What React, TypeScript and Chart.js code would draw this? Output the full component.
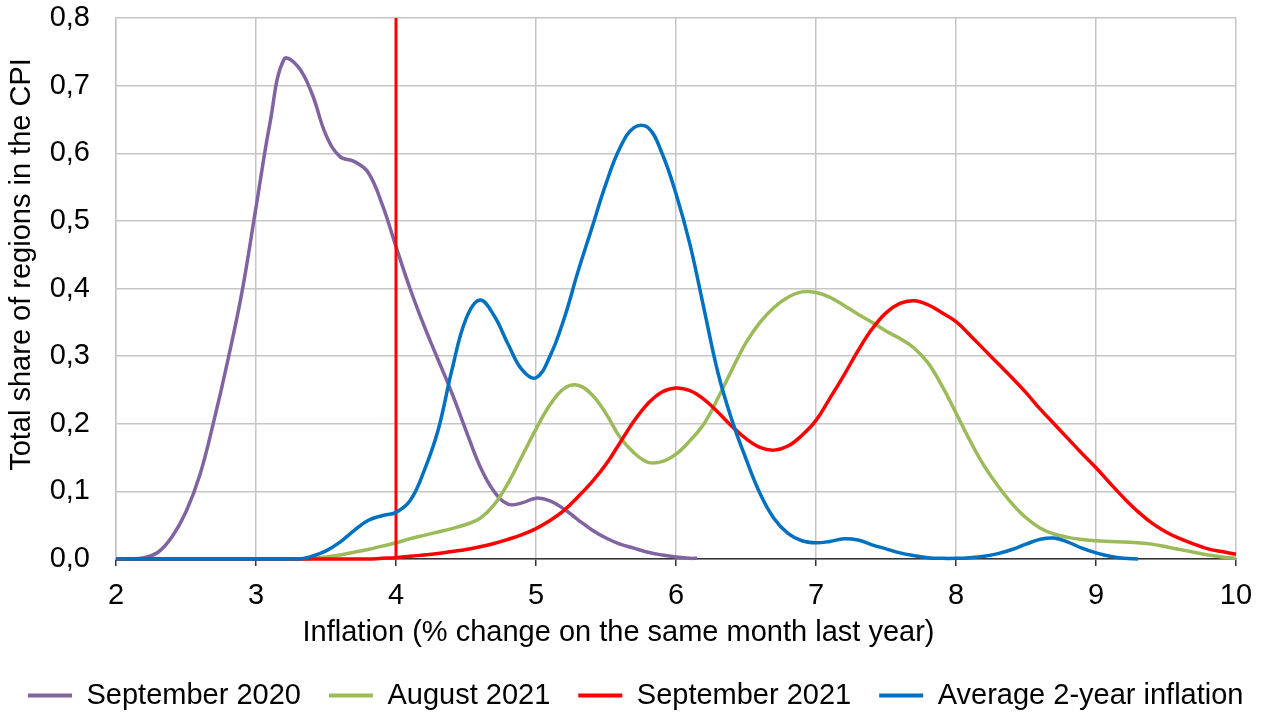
import React, { useEffect, useRef } from 'react';
import { Chart, registerables } from 'chart.js';

Chart.register(...registerables);

const seriesNames = ['September 2020', 'August 2021', 'September 2021', 'Average 2-year inflation'];
const seriesColors = ['#8064A2', '#9BBB59', '#FF0000', '#0070C0'];

const xTitle = 'Inflation (% change on the same month last year)';
const yTitle = 'Total share of regions in the CPI';

const xMin = 2;
const xMax = 10;
const yMin = 0;
const yMax = 0.8;

const sep2020X = [2.0, 2.1, 2.2, 2.3, 2.4, 2.5, 2.6, 2.7, 2.8, 2.9, 3.0, 3.1, 3.2, 3.3, 3.4, 3.5, 3.6, 3.7, 3.8, 3.9, 4.0, 4.1, 4.2, 4.3, 4.4, 4.5, 4.6, 4.7, 4.8, 4.9, 5.0, 5.1, 5.2, 5.3, 5.4, 5.5, 5.6, 5.7, 5.8, 5.9, 6.0, 6.1, 6.15];
const sep2020Y = [0, 0, 0.002, 0.01, 0.033, 0.07, 0.125, 0.205, 0.295, 0.395, 0.52, 0.645, 0.739, 0.728, 0.688, 0.627, 0.595, 0.588, 0.572, 0.525, 0.462, 0.4, 0.345, 0.295, 0.245, 0.19, 0.137, 0.1, 0.081, 0.083, 0.09, 0.086, 0.074, 0.058, 0.043, 0.031, 0.022, 0.016, 0.01, 0.006, 0.003, 0.001, 0.001];

const aug2021X = [2.0, 3.3, 3.4, 3.5, 3.6, 3.7, 3.8, 3.9, 4.0, 4.1, 4.2, 4.3, 4.4, 4.5, 4.6, 4.7, 4.8, 4.9, 5.0, 5.1, 5.2, 5.3, 5.4, 5.5, 5.6, 5.7, 5.8, 5.9, 6.0, 6.1, 6.2, 6.3, 6.4, 6.5, 6.6, 6.7, 6.8, 6.9, 7.0, 7.1, 7.2, 7.3, 7.4, 7.5, 7.6, 7.7, 7.8, 7.9, 8.0, 8.1, 8.2, 8.3, 8.4, 8.5, 8.6, 8.7, 8.8, 8.9, 9.0, 9.1, 9.2, 9.3, 9.4, 9.5, 9.6, 9.7, 9.8, 9.9, 10.0];
const aug2021Y = [0, 0, 0.001, 0.003, 0.006, 0.01, 0.014, 0.019, 0.024, 0.03, 0.035, 0.04, 0.045, 0.051, 0.06, 0.08, 0.112, 0.152, 0.192, 0.228, 0.252, 0.257, 0.243, 0.215, 0.18, 0.157, 0.143, 0.144, 0.155, 0.175, 0.2, 0.238, 0.28, 0.32, 0.35, 0.372, 0.387, 0.395, 0.394, 0.387, 0.375, 0.362, 0.35, 0.337, 0.326, 0.312, 0.29, 0.256, 0.216, 0.175, 0.138, 0.108, 0.082, 0.061, 0.046, 0.037, 0.032, 0.029, 0.027, 0.026, 0.025, 0.024, 0.022, 0.018, 0.014, 0.01, 0.006, 0.003, 0.001];

const sep2021X = [2.0, 3.8, 3.9, 4.0, 4.1, 4.2, 4.3, 4.4, 4.5, 4.6, 4.7, 4.8, 4.9, 5.0, 5.1, 5.2, 5.3, 5.4, 5.5, 5.6, 5.7, 5.8, 5.9, 6.0, 6.1, 6.2, 6.3, 6.4, 6.5, 6.6, 6.7, 6.8, 6.9, 7.0, 7.1, 7.2, 7.3, 7.4, 7.5, 7.6, 7.7, 7.8, 7.9, 8.0, 8.1, 8.2, 8.3, 8.4, 8.5, 8.6, 8.7, 8.8, 8.9, 9.0, 9.1, 9.2, 9.3, 9.4, 9.5, 9.6, 9.7, 9.8, 9.9, 10.0];
const sep2021Y = [0, 0, 0.001, 0.002, 0.004, 0.006, 0.008, 0.011, 0.014, 0.018, 0.023, 0.029, 0.036, 0.045, 0.057, 0.072, 0.092, 0.114, 0.14, 0.172, 0.204, 0.23, 0.247, 0.253, 0.249, 0.236, 0.217, 0.196, 0.178, 0.165, 0.161, 0.167, 0.183, 0.205, 0.238, 0.272, 0.308, 0.34, 0.364, 0.378, 0.382, 0.376, 0.364, 0.351, 0.331, 0.31, 0.289, 0.268, 0.246, 0.222, 0.2, 0.178, 0.156, 0.135, 0.112, 0.09, 0.07, 0.053, 0.04, 0.03, 0.022, 0.015, 0.011, 0.007];

const avg2yX = [2.0, 3.3, 3.4, 3.5, 3.6, 3.7, 3.8, 3.9, 4.0, 4.1, 4.2, 4.3, 4.4, 4.5, 4.6, 4.7, 4.8, 4.9, 5.0, 5.1, 5.2, 5.3, 5.4, 5.5, 5.6, 5.7, 5.8, 5.9, 6.0, 6.1, 6.2, 6.3, 6.4, 6.5, 6.6, 6.7, 6.8, 6.9, 7.0, 7.1, 7.2, 7.3, 7.4, 7.5, 7.6, 7.7, 7.8, 7.9, 8.0, 8.1, 8.2, 8.3, 8.4, 8.5, 8.6, 8.7, 8.8, 8.9, 9.0, 9.1, 9.2, 9.3];
const avg2yY = [0, 0, 0.004, 0.012, 0.025, 0.042, 0.057, 0.064, 0.069, 0.086, 0.13, 0.19, 0.28, 0.355, 0.383, 0.36, 0.318, 0.28, 0.268, 0.3, 0.355, 0.425, 0.49, 0.555, 0.608, 0.638, 0.638, 0.6, 0.54, 0.465, 0.37, 0.275, 0.205, 0.148, 0.097, 0.06, 0.038, 0.027, 0.024, 0.026, 0.03, 0.028, 0.021, 0.015, 0.009, 0.005, 0.002, 0.001, 0.001, 0.002, 0.004, 0.008, 0.014, 0.022, 0.029, 0.031, 0.025, 0.016, 0.009, 0.004, 0.001, 0];

const markerX = [4, 4];
const markerY = [0, 0.8];

const FONT = '"Liberation Sans", Arial, Helvetica, sans-serif';

function pts(xs: number[], ys: number[]) {
  return xs.map((x, i) => ({ x, y: ys[i] }));
}

const axisTitles = {
  id: 'axisTitles',
  afterDraw(chart: any) {
    const { ctx, chartArea } = chart;
    ctx.save();
    ctx.font = `29px ${FONT}`;
    ctx.fillStyle = '#000';
    ctx.textAlign = 'center';
    ctx.textBaseline = 'middle';
    ctx.fillText(xTitle, chartArea.left + 502.5, chartArea.bottom + 74);
    ctx.translate(22, chartArea.top + 246.5);
    ctx.rotate(-Math.PI / 2);
    ctx.fillText(yTitle, 0, 0);
    ctx.restore();
  },
};

export default function App() {
  const ref = useRef<HTMLCanvasElement>(null);

  useEffect(() => {
    if (!ref.current) return;
    const lineBase = {
      borderWidth: 3.5,
      pointRadius: 0,
      pointHoverRadius: 0,
      fill: false,
      tension: 0.4,
      clip: false as any,
    };
    const chart = new Chart(ref.current, {
      type: 'line',
      data: {
        datasets: [
          { ...lineBase, label: seriesNames[0], data: pts(sep2020X, sep2020Y), borderColor: seriesColors[0], backgroundColor: seriesColors[0], order: 4 },
          { ...lineBase, label: seriesNames[1], data: pts(aug2021X, aug2021Y), borderColor: seriesColors[1], backgroundColor: seriesColors[1], order: 3 },
          { ...lineBase, label: seriesNames[2], data: pts(sep2021X, sep2021Y), borderColor: seriesColors[2], backgroundColor: seriesColors[2], order: 2 },
          { ...lineBase, label: seriesNames[3], data: pts(avg2yX, avg2yY), borderColor: seriesColors[3], backgroundColor: seriesColors[3], order: 0 },
          { ...lineBase, label: 'marker', data: pts(markerX, markerY), borderColor: seriesColors[2], backgroundColor: seriesColors[2], borderWidth: 3, tension: 0, order: 1 },
        ],
      },
      options: {
        responsive: false,
        animation: false,
        events: [],
        layout: { padding: { top: 18, right: 0, left: 0, bottom: 0 } },
        scales: {
          x: {
            type: 'linear',
            min: xMin,
            max: xMax,
            ticks: {
              stepSize: 1,
              color: '#000',
              font: { family: FONT, size: 29 },
              padding: 13,
              maxRotation: 0,
            },
            grid: {
              color: '#c6c6c6',
              lineWidth: 1.5,
              drawTicks: true,
              tickLength: 7,
              tickColor: '#333',
              tickWidth: 1.5,
            },
            border: { display: true, color: '#333', width: 1.5 },
            afterFit(scale: any) {
              scale.height = 94;
              scale.paddingLeft = 0;
              scale.paddingRight = 0;
            },
          },
          y: {
            type: 'linear',
            min: yMin,
            max: yMax,
            ticks: {
              stepSize: 0.1,
              color: '#000',
              font: { family: FONT, size: 29 },
              padding: 26,
              callback: (v: any) => Number(v).toFixed(1).replace('.', ','),
            },
            grid: { color: '#c6c6c6', lineWidth: 1.5, drawTicks: false },
            border: { display: true, color: '#c6c6c6', width: 1.5 },
            afterFit(scale: any) {
              scale.width = 116;
              scale.paddingTop = 0;
              scale.paddingBottom = 0;
            },
          },
          yRight: {
            type: 'linear',
            position: 'right',
            display: true,
            ticks: { display: false },
            grid: { display: false, drawTicks: false },
            border: { display: false },
            afterFit(scale: any) {
              scale.width = 64;
              scale.paddingTop = 0;
              scale.paddingBottom = 0;
            },
          },
        },
        plugins: {
          legend: {
            position: 'bottom',
            align: 'start',
            labels: {
              color: '#000',
              font: { family: FONT, size: 29 },
              boxWidth: 44,
              boxHeight: 4,
              padding: 28,
              sort: (a: any, b: any) => a.datasetIndex - b.datasetIndex,
              generateLabels(chart: any) {
                const items = Chart.defaults.plugins.legend.labels.generateLabels(chart);
                return items.map((it: any) => ({ ...it, lineWidth: 0 }));
              },
              filter: (item: any) => item.text !== 'marker',
            },
          },
          tooltip: { enabled: false },
          title: { display: false },
        },
      },
      plugins: [axisTitles],
    });
    return () => chart.destroy();
  }, []);

  return (
    <div style={{ position: 'fixed', left: 0, top: 0, width: 1263, height: 713, overflow: 'hidden', background: '#fff' }}>
      <canvas ref={ref} width={1300} height={720} style={{ display: 'block' }} />
    </div>
  );
}
